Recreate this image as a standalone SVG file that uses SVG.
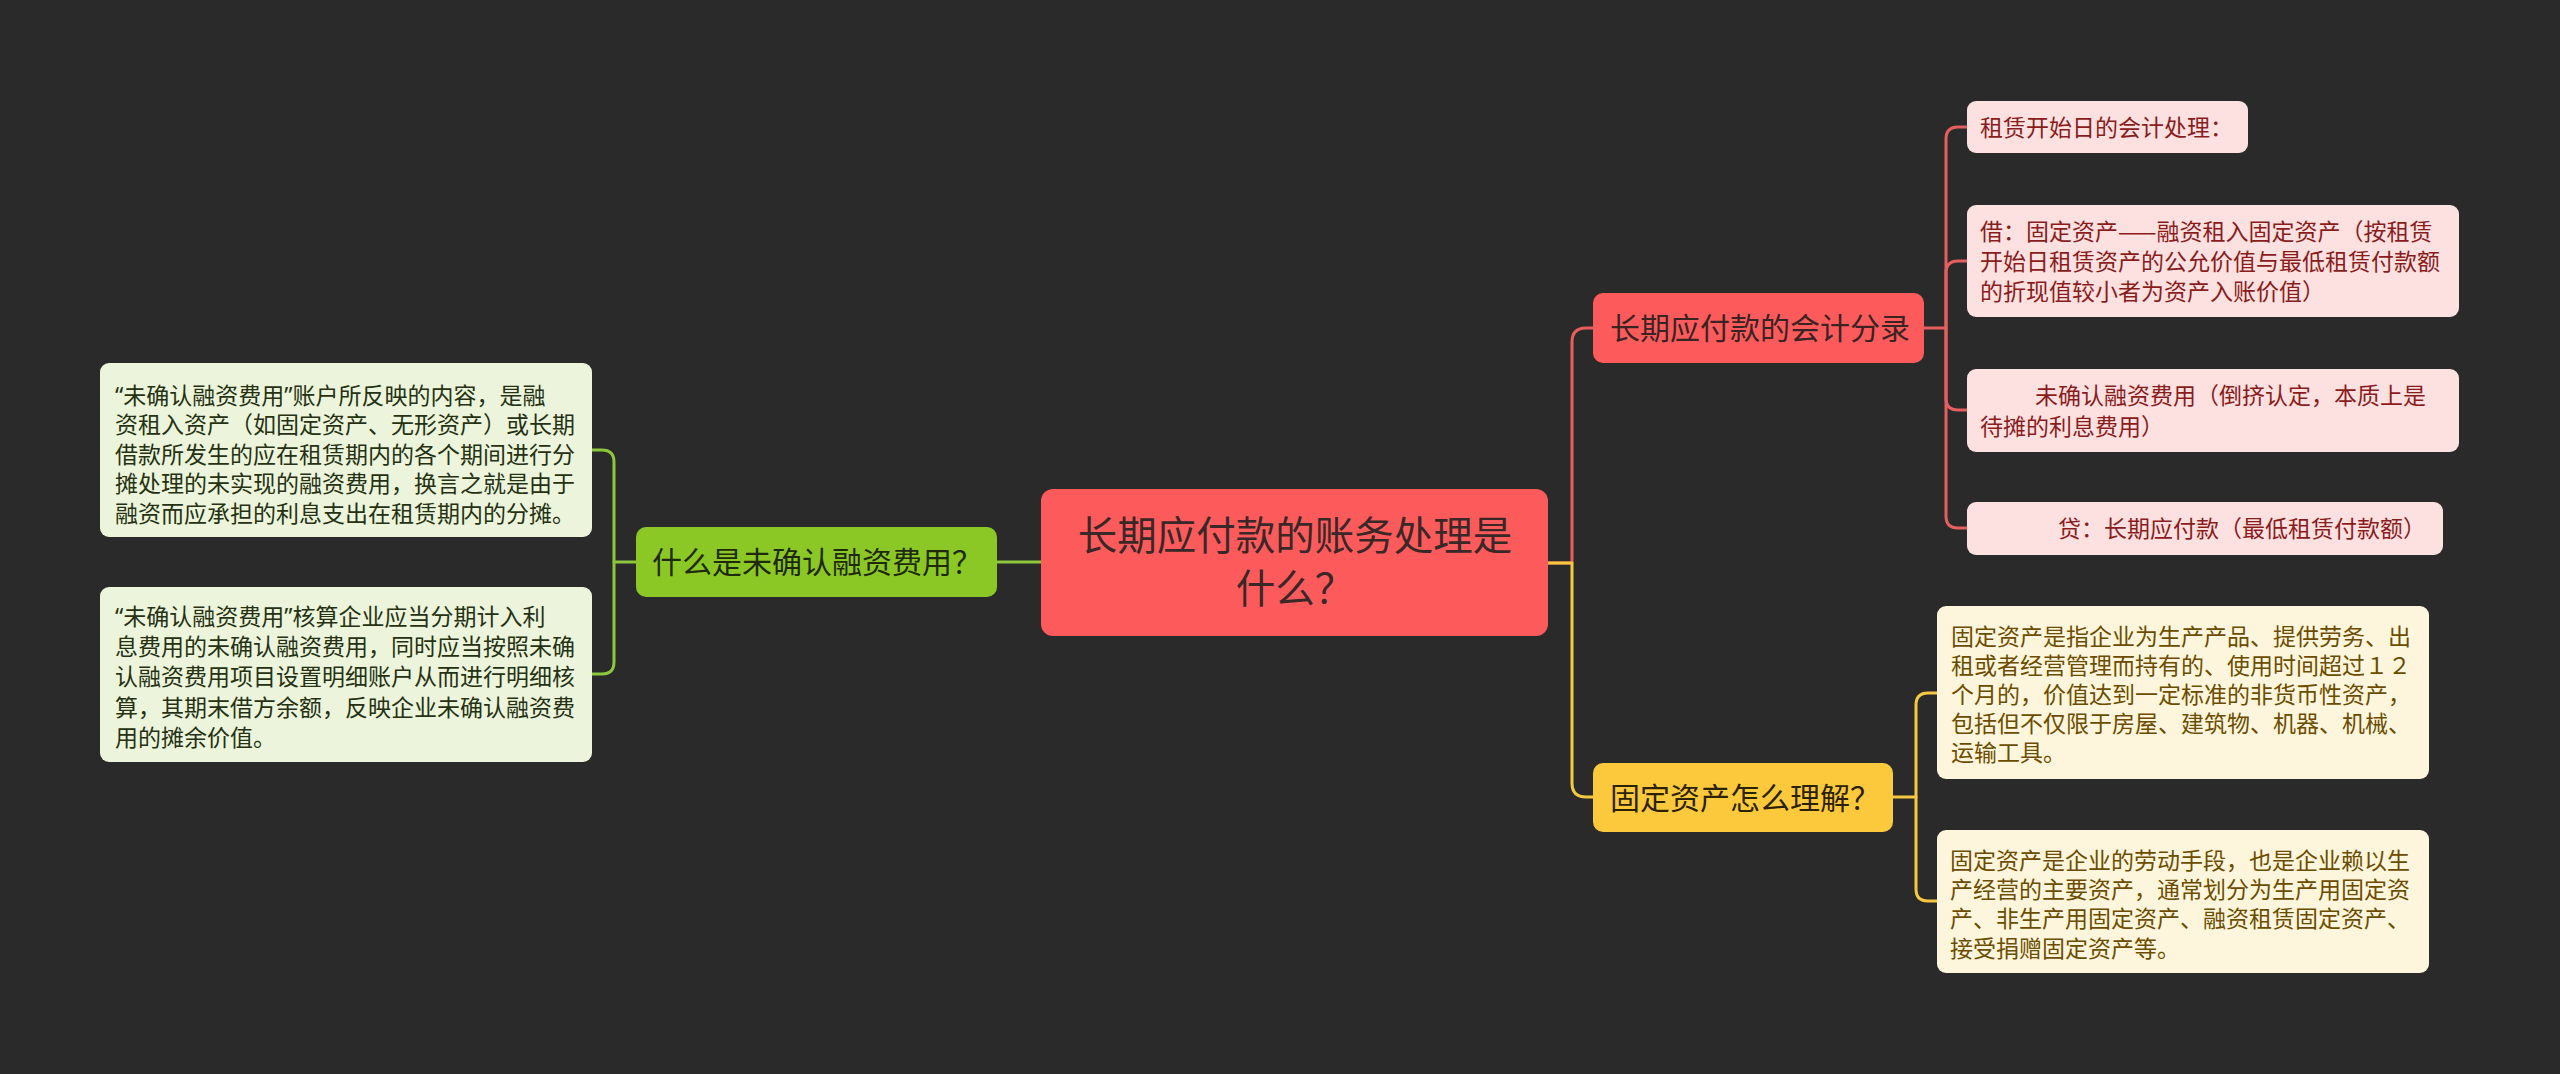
<svg xmlns="http://www.w3.org/2000/svg" width="2560" height="1074" viewBox="0 0 2560 1074">
<style>
text{font-family:"Noto Sans CJK SC","Noto Sans",sans-serif;}
.q{font-family:"Noto Sans","Liberation Sans",sans-serif;}
.c{fill:none;stroke-width:3;stroke-linecap:round;stroke-linejoin:round;}
.cr{stroke:#e65e5e;}
.cg{stroke:#8cc63a;}
.cy{stroke:#f6c740;}
.root{fill:#fd5b5b;}
.roott{font-size:39.5px;fill:#3a2828;text-anchor:middle;}
.l1t{font-size:30px;}
.leaf{font-size:23px;}
.rl{fill:#fde1e1;}
.rlt{fill:#8a1c1c;}
.gl{fill:#ecf5dc;}
.glt{fill:#253112;}
.yl{fill:#fef6dc;}
.ylt{fill:#6c4d00;}
</style>
<rect width="2560" height="1074" fill="#2a2a2a"/>
<g id="connectors">
<path class="c cg" d="M1041,562 H997"/>
<path class="c cg" d="M636,562 H614 V462 Q614,450 602,450 H592"/>
<path class="c cg" d="M614,562 V662 Q614,674 602,674 H592"/>
<path class="c cr" d="M1548,563 H1572 V342 Q1572,328 1586,328 H1593"/>
<path class="c cy" d="M1548,563 H1572 V783 Q1572,797 1586,797 H1593"/>
<path class="c cr" d="M1924,328 H1946 V139 Q1946,127 1958,127 H1967"/>
<path class="c cr" d="M1946,328 V273 Q1946,261 1958,261 H1967"/>
<path class="c cr" d="M1946,328 V398 Q1946,410 1958,410 H1967"/>
<path class="c cr" d="M1946,328 V516 Q1946,528 1958,528 H1967"/>
<path class="c cy" d="M1893,797 H1916 V705 Q1916,693 1928,693 H1937"/>
<path class="c cy" d="M1916,797 V889 Q1916,901 1928,901 H1937"/>
</g>
<g id="root">
<rect class="root" x="1041" y="489" width="507" height="147" rx="12"/>
<text class="roott" x="1295" y="550">长期应付款的账务处理是</text>
<text class="roott" x="1295" y="603">什么？</text>
</g>
<g id="n-green">
<rect x="636" y="527" width="361" height="70" rx="10" fill="#8cc825"/>
<text class="l1t" x="652" y="573" fill="#1e2a0a">什么是未确认融资费用？</text>
</g>
<g id="n-red">
<rect x="1593" y="293" width="331" height="70" rx="10" fill="#fd5b5b"/>
<text class="l1t" x="1610" y="339" fill="#3a2323">长期应付款的会计分录</text>
</g>
<g id="n-yellow">
<rect x="1593" y="763" width="300" height="69" rx="10" fill="#fdc93c"/>
<text class="l1t" x="1610" y="809" fill="#2a2200">固定资产怎么理解？</text>
</g>
<g id="g-leaf1">
<rect class="gl" x="100" y="363" width="492" height="174" rx="9"/>
<text class="leaf glt" x="115"><tspan x="115" y="404"><tspan class="q">“</tspan>未确认融资费用<tspan class="q">”</tspan>账户所反映的内容，是融</tspan><tspan x="115" y="433">资租入资产（如固定资产、无形资产）或长期</tspan><tspan x="115" y="463">借款所发生的应在租赁期内的各个期间进行分</tspan><tspan x="115" y="492">摊处理的未实现的融资费用，换言之就是由于</tspan><tspan x="115" y="522">融资而应承担的利息支出在租赁期内的分摊。</tspan></text>
</g>
<g id="g-leaf2">
<rect class="gl" x="100" y="587" width="492" height="175" rx="9"/>
<text class="leaf glt" x="115"><tspan x="115" y="625"><tspan class="q">“</tspan>未确认融资费用<tspan class="q">”</tspan>核算企业应当分期计入利</tspan><tspan x="115" y="655">息费用的未确认融资费用，同时应当按照未确</tspan><tspan x="115" y="685">认融资费用项目设置明细账户从而进行明细核</tspan><tspan x="115" y="716">算，其期末借方余额，反映企业未确认融资费</tspan><tspan x="115" y="746">用的摊余价值。</tspan></text>
</g>
<g id="r-leaf1">
<rect class="rl" x="1967" y="101" width="281" height="52" rx="9"/>
<text class="leaf rlt" x="1980" y="136">租赁开始日的会计处理：</text>
</g>
<g id="r-leaf2">
<rect class="rl" x="1967" y="205" width="492" height="112" rx="9"/>
<text class="leaf rlt" x="1980"><tspan x="1980" y="240">借：固定资产——融资租入固定资产（按租赁</tspan><tspan x="1980" y="270">开始日租赁资产的公允价值与最低租赁付款额</tspan><tspan x="1980" y="300">的折现值较小者为资产入账价值）</tspan></text>
</g>
<g id="r-leaf3">
<rect class="rl" x="1967" y="369" width="492" height="83" rx="9"/>
<text class="leaf rlt" x="2035"><tspan x="2035" y="404">未确认融资费用（倒挤认定，本质上是</tspan><tspan x="1980" y="435">待摊的利息费用）</tspan></text>
</g>
<g id="r-leaf4">
<rect class="rl" x="1967" y="502" width="476" height="53" rx="9"/>
<text class="leaf rlt" x="2058" y="537">贷：长期应付款（最低租赁付款额）</text>
</g>
<g id="y-leaf1">
<rect class="yl" x="1937" y="606" width="492" height="173" rx="9"/>
<text class="leaf ylt" x="1951"><tspan x="1951" y="645">固定资产是指企业为生产产品、提供劳务、出</tspan><tspan x="1951" y="674">租或者经营管理而持有的、使用时间超过１２</tspan><tspan x="1951" y="703">个月的，价值达到一定标准的非货币性资产，</tspan><tspan x="1951" y="732">包括但不仅限于房屋、建筑物、机器、机械、</tspan><tspan x="1951" y="761">运输工具。</tspan></text>
</g>
<g id="y-leaf2">
<rect class="yl" x="1937" y="830" width="492" height="143" rx="9"/>
<text class="leaf ylt" x="1950"><tspan x="1950" y="869">固定资产是企业的劳动手段，也是企业赖以生</tspan><tspan x="1950" y="898">产经营的主要资产，通常划分为生产用固定资</tspan><tspan x="1950" y="927">产、非生产用固定资产、融资租赁固定资产、</tspan><tspan x="1950" y="957">接受捐赠固定资产等。</tspan></text>
</g>
</svg>
